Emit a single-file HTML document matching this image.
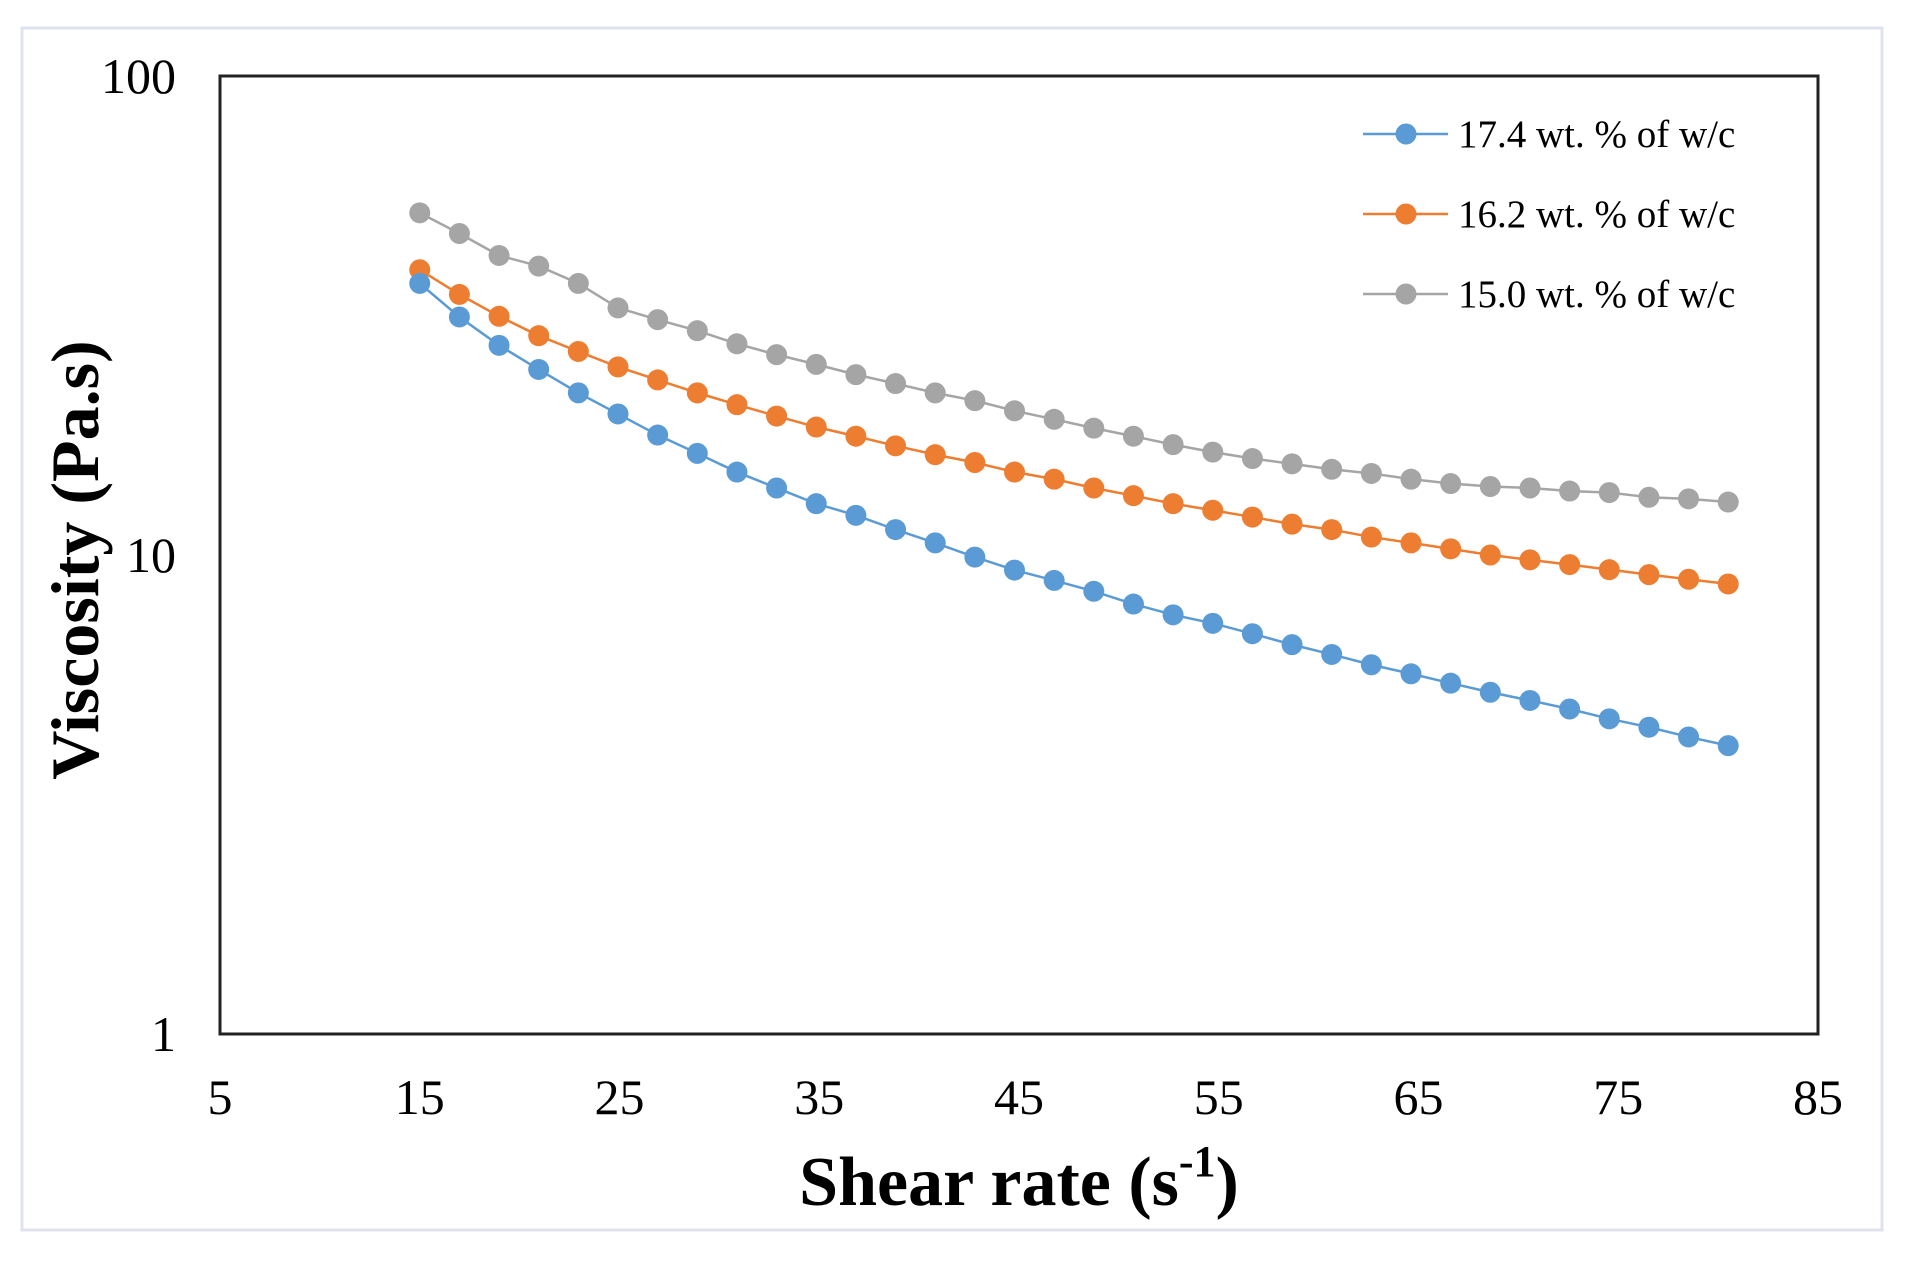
<!DOCTYPE html>
<html><head><meta charset="utf-8"><style>
html,body{margin:0;padding:0;background:#fff;}
svg{display:block;font-family:"Liberation Serif",serif;}
</style></head><body>
<svg id="chart" width="1905" height="1263" viewBox="0 0 1905 1263">
<rect x="22" y="28" width="1860" height="1202" fill="#fff" stroke="#dfe4ec" stroke-width="3"/>
<g id="series"></g>
<rect x="220" y="76" width="1598" height="958" fill="none" stroke="#222" stroke-width="3"/>
<g id="yticks"></g>
<g id="xticks"></g>
<text x="1019" y="1205" text-anchor="middle" font-size="70" font-weight="bold">Shear rate (s<tspan font-size="44" dy="-29">-1</tspan><tspan dy="29">)</tspan></text>
<text transform="translate(98,560) rotate(-90)" text-anchor="middle" font-size="68" font-weight="bold">Viscosity (Pa.s)</text>
<g id="legend"></g>
</svg>
<script>
const shearRate = [15,17,19,21,23,25,27,29,31,33,35,37,39,41,43,45,47,49,51,53,55,57,59,61,63,65,67,69,71,73,75,77,79,81].map(v=>15+(v-15)*0.9925);
const visc174 = [36.9,31.4,27.4,24.4,21.8,19.7,17.8,16.3,14.9,13.8,12.8,12.1,11.3,10.6,9.9,9.3,8.85,8.4,7.9,7.5,7.2,6.85,6.5,6.2,5.9,5.65,5.4,5.17,4.97,4.77,4.55,4.37,4.17,4.0];
const visc162 = [39.4,35.0,31.5,28.7,26.6,24.7,23.2,21.8,20.6,19.5,18.5,17.7,16.9,16.2,15.6,14.9,14.4,13.8,13.3,12.8,12.4,12.0,11.6,11.3,10.9,10.6,10.3,10.0,9.77,9.55,9.32,9.1,8.9,8.7];
const visc150 = [51.8,46.9,42.2,40.1,36.9,32.8,31.0,29.4,27.6,26.2,25.0,23.8,22.8,21.8,21.0,20.0,19.2,18.4,17.7,17.0,16.4,15.9,15.5,15.1,14.8,14.4,14.1,13.9,13.8,13.6,13.5,13.2,13.1,12.9];
const seriesNames = ["17.4 wt. % of w/c","16.2 wt. % of w/c","15.0 wt. % of w/c"];
const xTicks = [5,15,25,35,45,55,65,75,85];
const yTicks = [1,10,100];

const NS="http://www.w3.org/2000/svg";
const X0=220,X1=1818,Y0=76,Y1=1034;
const xs=v=>X0+(v-5)/80*(X1-X0);
const ys=v=>Y1-(Math.log10(v)/2)*(Y1-Y0);
function mk(t,a){const e=document.createElementNS(NS,t);for(const k in a)e.setAttribute(k,a[k]);return e;}
const colors=["#5b9bd5","#ed7d31","#a5a5a5"];
const data=[visc174,visc162,visc150];
const sg=document.getElementById('series');
[2,1,0].forEach(s=>{
  const g=mk('g',{});
  
  
  const pts=data[s].map((v,i)=>xs(shearRate[i])+','+ys(v)).join(' ');
  const pl=mk('polyline',{points:pts,fill:'none',stroke:colors[s],'stroke-width':2.5});
  
  
  g.appendChild(pl);
  data[s].forEach((v,i)=>{
    const c=mk('circle',{cx:xs(shearRate[i]),cy:ys(v),r:10.5,fill:colors[s]});
    
    
    g.appendChild(c);
  });
  sg.appendChild(g);
});
const yg=document.getElementById('yticks');
yTicks.forEach(v=>{
  const t=mk('text',{x:176,y:ys(v)+17,'text-anchor':'end','font-size':50});
  t.textContent=v;
  
  
  yg.appendChild(t);
});
const xg=document.getElementById('xticks');
xTicks.forEach(v=>{
  const t=mk('text',{x:xs(v),y:1114,'text-anchor':'middle','font-size':50});
  t.textContent=v;
  
  
  xg.appendChild(t);
});
const lg=document.getElementById('legend');
seriesNames.forEach((n,i)=>{
  const y=134+i*80;
  const g=mk('g',{});
  
  
  g.appendChild(mk('line',{x1:1363,x2:1448,y1:y,y2:y,stroke:colors[i],'stroke-width':2.5}));
  g.appendChild(mk('circle',{cx:1406,cy:y,r:10.5,fill:colors[i]}));
  const t=mk('text',{x:1458,y:y+13,'font-size':39});
  t.textContent=n;
  g.appendChild(t);
  lg.appendChild(g);
});
</script>
</body></html>
